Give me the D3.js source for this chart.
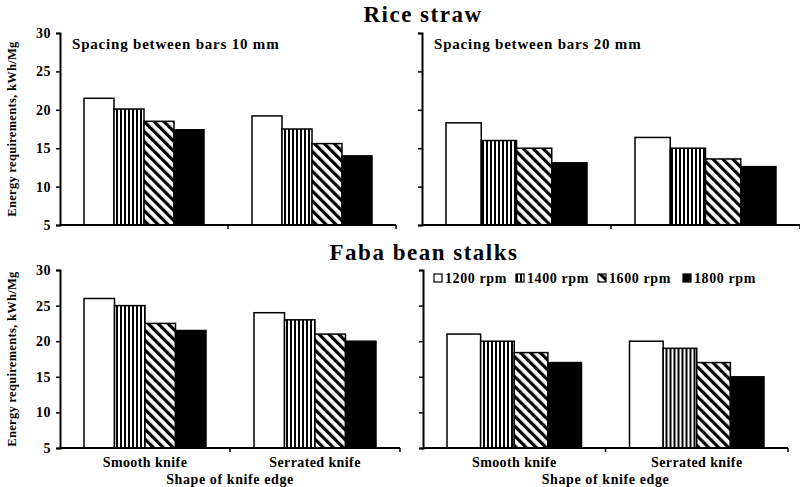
<!DOCTYPE html>
<html>
<head>
<meta charset="utf-8">
<script src="https://cdn.jsdelivr.net/npm/d3@7"></script>
<style>
  body { margin: 0; background: #fff; }
  svg text { font-family: "Liberation Serif", "DejaVu Serif", serif; font-weight: bold; fill: #000; }
</style>
</head>
<body>
<div class="visContainer"></div>
<script>
// Data.
const groups = ['Smooth knife', 'Serrated knife'];
const speeds = ['1200 rpm', '1400 rpm', '1600 rpm', '1800 rpm'];
const yTicks = [5, 10, 15, 20, 25, 30];

// Rice straw, energy requirements kWh/Mg (rows = knife edge, cols = speed).
const riceSpacing10 = [[21.5, 20.1, 18.5, 17.4], [19.2, 17.5, 15.6, 14.0]];
const riceSpacing20 = [[18.3, 16.0, 15.0, 13.1], [16.4, 15.0, 13.6, 12.6]];
// Faba bean stalks.
const fabaSpacing10 = [[26.0, 25.0, 22.5, 21.5], [24.0, 23.0, 21.0, 20.0]];
const fabaSpacing20 = [[21.0, 20.0, 18.4, 17.0], [20.0, 19.0, 17.0, 15.0]];

// SVG constants.
const width = 800;
const height = 487;

const svg = d3.select('.visContainer')
              .append('svg')
              .attr('width', width)
              .attr('height', height);

// Fill patterns.
const defs = svg.append('defs');
const vPat = defs.append('pattern')
                 .attr('id', 'vstripe')
                 .attr('patternUnits', 'userSpaceOnUse')
                 .attr('width', 4)
                 .attr('height', 4);
vPat.append('rect').attr('width', 4).attr('height', 4).attr('fill', '#fff');
vPat.append('rect').attr('x', 0).attr('width', 2).attr('height', 4).attr('fill', '#000');

const dPat = defs.append('pattern')
                 .attr('id', 'diag')
                 .attr('patternUnits', 'userSpaceOnUse')
                 .attr('width', 7)
                 .attr('height', 7)
                 .attr('patternTransform', 'rotate(-45)');
dPat.append('rect').attr('width', 7).attr('height', 7).attr('fill', '#fff');
dPat.append('rect').attr('x', 0).attr('width', 3.2).attr('height', 7).attr('fill', '#000');

const fillScale = d3.scaleOrdinal()
                    .domain(speeds)
                    .range(['#fff', 'url(#vstripe)', 'url(#diag)', '#000']);

// Panels.
const panels = [
  { data: riceSpacing10, x: [60, 396], y: [225, 33], labels: true, note: 'Spacing between bars 10 mm', xLabels: false },
  { data: riceSpacing20, x: [422, 800], y: [225, 33], labels: false, note: 'Spacing between bars 20 mm', xLabels: false },
  { data: fabaSpacing10, x: [60, 400], y: [448, 270], labels: true, note: null, xLabels: true },
  { data: fabaSpacing20, x: [423, 788], y: [448, 270], labels: false, note: null, xLabels: true, legend: true }
];

panels.forEach((p) => {
  const g = svg.append('g');

  const x0 = d3.scaleBand()
               .domain(groups)
               .range(p.x);

  const barW = (x0.bandwidth() - 48) / 4;
  const x1 = d3.scaleBand()
               .domain(speeds)
               .range([0, x0.bandwidth()])
               .paddingOuter(24 / barW);

  const y = d3.scaleLinear()
              .domain([5, 30])
              .range(p.y);

  // Bars.
  const grp = g.selectAll('.grp')
               .data(p.data)
               .enter()
               .append('g')
               .attr('transform', (d, i) => 'translate(' + x0(groups[i]) + ',0)');

  grp.selectAll('rect')
     .data((d) => d.map((v, j) => ({ speed: speeds[j], value: v })))
     .enter()
     .append('rect')
     .attr('x', (d) => x1(d.speed))
     .attr('y', (d) => y(d.value))
     .attr('width', x1.bandwidth())
     .attr('height', (d) => y(5) - y(d.value))
     .attr('fill', (d) => fillScale(d.speed))
     .attr('stroke', '#000')
     .attr('stroke-width', 1.5);

  // Y axis.
  const yAxis = d3.axisLeft(y)
                  .tickValues(yTicks)
                  .tickSize(4)
                  .tickFormat(p.labels ? d3.format('d') : '');
  const ya = g.append('g')
              .attr('transform', 'translate(' + p.x[0] + ',0)')
              .call(yAxis);
  ya.select('.domain').attr('stroke-width', 2);
  ya.selectAll('.tick line').attr('stroke-width', 1.5);
  ya.selectAll('.tick text')
    .attr('x', -9)
    .style('font-size', '14px')
    .style('letter-spacing', '0.5px');

  // X axis with ticks on category boundaries.
  const xa = g.append('g')
              .attr('transform', 'translate(0,' + y(5) + ')');
  xa.append('line')
    .attr('x1', p.x[0])
    .attr('x2', p.x[1])
    .attr('stroke', '#000')
    .attr('stroke-width', 2);
  xa.selectAll('.xtick')
    .data(groups.slice(1))
    .enter()
    .append('line')
    .attr('x1', (d) => x0(d))
    .attr('x2', (d) => x0(d))
    .attr('y1', 0)
    .attr('y2', 4)
    .attr('stroke', '#000')
    .attr('stroke-width', 1.5);
  xa.append('line')
    .attr('x1', p.x[1]).attr('x2', p.x[1])
    .attr('y1', 0).attr('y2', 4)
    .attr('stroke', '#000').attr('stroke-width', 1.5);

  if (p.xLabels) {
    xa.selectAll('.xlab')
      .data(groups)
      .enter()
      .append('text')
      .attr('x', (d) => x0(d) + x0.bandwidth() / 2)
      .attr('y', 19)
      .attr('text-anchor', 'middle')
      .style('font-size', '14px')
      .style('letter-spacing', '0.4px')
      .text((d) => d);
    xa.append('text')
      .attr('x', (p.x[0] + p.x[1]) / 2)
      .attr('y', 36)
      .attr('text-anchor', 'middle')
      .style('font-size', '14px')
      .style('letter-spacing', '0.6px')
      .text('Shape of knife edge');
  }

  if (p.labels) {
    g.append('text')
     .attr('transform', 'translate(16,' + (p.y[0] + p.y[1]) / 2 + ') rotate(-90)')
     .attr('text-anchor', 'middle')
     .style('font-size', '12.5px')
     .style('letter-spacing', '0.3px')
     .text('Energy requirements, kWh/Mg');
  }

  if (p.note) {
    g.append('text')
     .attr('x', p.x[0] + 12)
     .attr('y', p.y[1] + 16)
     .style('font-size', '15px')
     .style('letter-spacing', '0.8px')
     .text(p.note);
  }

  if (p.legend) {
    const legendX = [438, 520, 602, 687];
    const lg = g.selectAll('.legend')
                .data(speeds)
                .enter()
                .append('g')
                .attr('transform', (d, i) => 'translate(' + legendX[i] + ',' + 278 + ')');
    lg.append('rect')
      .attr('x', -4)
      .attr('y', -4)
      .attr('width', 8)
      .attr('height', 8)
      .attr('fill', (d) => fillScale(d))
      .attr('stroke', '#000')
      .attr('stroke-width', 1.2);
    lg.append('text')
      .attr('x', 7)
      .attr('y', 5)
      .style('font-size', '14px')
      .style('letter-spacing', '0.6px')
      .text((d) => d);
  }
});

// Titles.
svg.append('text')
   .attr('x', 423)
   .attr('y', 22)
   .attr('text-anchor', 'middle')
   .style('font-size', '23px')
   .style('letter-spacing', '1.5px')
   .text('Rice straw');

svg.append('text')
   .attr('x', 424)
   .attr('y', 260)
   .attr('text-anchor', 'middle')
   .style('font-size', '23px')
   .style('letter-spacing', '1.5px')
   .text('Faba bean stalks');
</script>
</body>
</html>
